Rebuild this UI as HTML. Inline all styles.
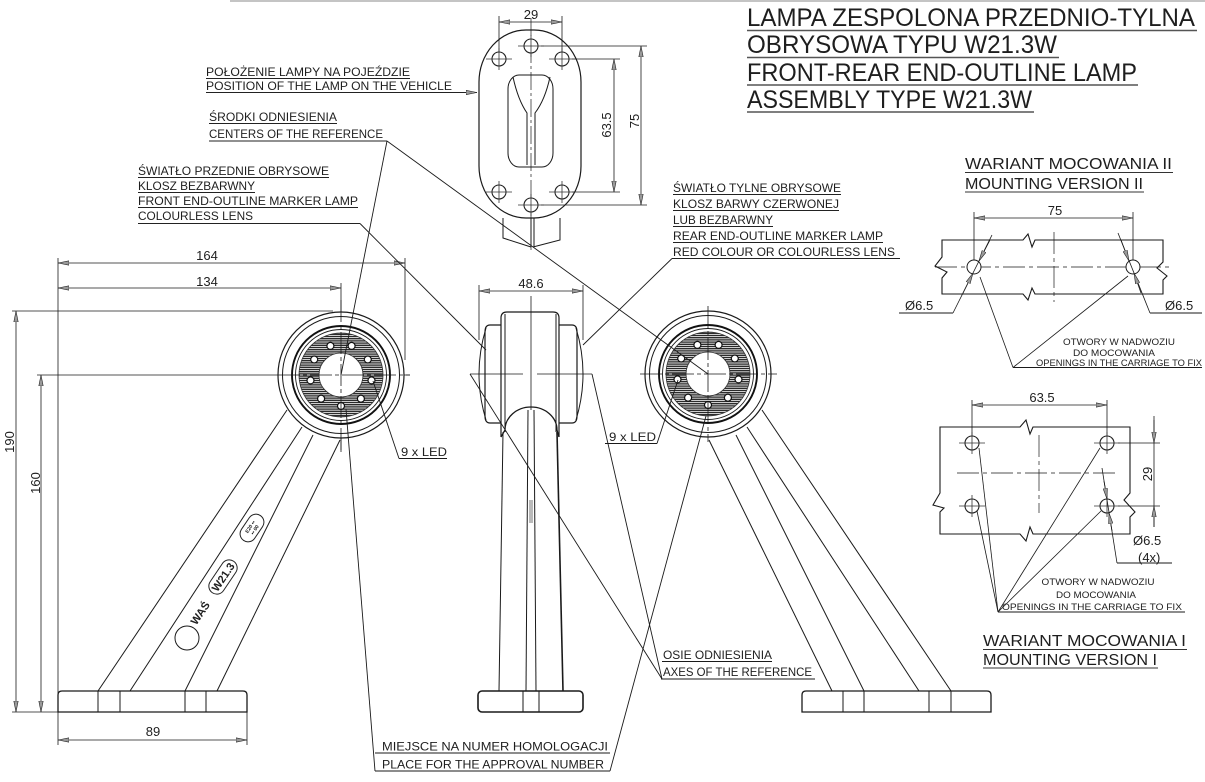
<!DOCTYPE html>
<html><head><meta charset="utf-8"><style>
html,body{margin:0;padding:0;background:#fff;}
svg{display:block;}
text{font-family:"Liberation Sans",sans-serif;fill:#1e1e1e;}
</style></head><body>
<svg width="1205" height="782" viewBox="0 0 1205 782" xmlns="http://www.w3.org/2000/svg">
<defs>
<marker id="a" viewBox="0 0 11 5" refX="11" refY="2.5" markerWidth="11" markerHeight="5" markerUnits="userSpaceOnUse" orient="auto-start-reverse"><path d="M0,0.3 L11,2.5 L0,4.7z" fill="#9a9a9a" stroke="#222" stroke-width="0.6"/></marker>
<pattern id="h" width="6" height="2.2" patternUnits="userSpaceOnUse"><rect width="6" height="2.2" fill="#fff"/><line x1="0" y1="1.1" x2="6" y2="1.1" stroke="#2a2a2a" stroke-width="1.4"/></pattern>
<g id="lamp">
 <circle r="63" fill="#fff" stroke="#1a1a1a" stroke-width="1.2"/>
 <circle r="58.5" fill="none" stroke="#1a1a1a" stroke-width="1"/>
 <circle r="49" fill="none" stroke="#111" stroke-width="1.9"/>
 <circle r="45.5" fill="none" stroke="#1a1a1a" stroke-width="0.9"/>
 <path d="M-42,0 a42,42 0 1,0 84,0 a42,42 0 1,0 -84,0 Z M-22,0 a22,22 0 1,0 44,0 a22,22 0 1,0 -44,0 Z" fill-rule="evenodd" fill="url(#h)" stroke="#333" stroke-width="0.8"/>
 <g fill="#fff" stroke="#111" stroke-width="1.2">
  <circle cx="0" cy="31" r="3.5"/><circle cx="19.9" cy="23.7" r="3.5"/><circle cx="-19.9" cy="23.7" r="3.5"/>
  <circle cx="30.5" cy="5.4" r="3.5"/><circle cx="-30.5" cy="5.4" r="3.5"/><circle cx="26.8" cy="-15.5" r="3.5"/>
  <circle cx="-26.8" cy="-15.5" r="3.5"/><circle cx="10.6" cy="-29.1" r="3.5"/><circle cx="-10.6" cy="-29.1" r="3.5"/>
 </g>
</g>
<g id="hole"><circle r="7" fill="#fff" stroke="#222" stroke-width="1.1"/><line x1="-13" y1="0" x2="13" y2="0" stroke="#333" stroke-width="0.8"/><line x1="0" y1="-11" x2="0" y2="11" stroke="#333" stroke-width="0.8"/></g>
</defs>

<!-- top border -->
<line x1="230" y1="1" x2="1205" y2="1" stroke="#c4c4c4" stroke-width="2"/>

<!-- TITLE -->
<g font-size="25">
<text x="747" y="26" textLength="448" lengthAdjust="spacingAndGlyphs">LAMPA ZESPOLONA PRZEDNIO-TYLNA</text>
<text x="747" y="53" textLength="310" lengthAdjust="spacingAndGlyphs">OBRYSOWA TYPU W21.3W</text>
<text x="747" y="81" textLength="390" lengthAdjust="spacingAndGlyphs">FRONT-REAR END-OUTLINE LAMP</text>
<text x="747" y="108" textLength="285" lengthAdjust="spacingAndGlyphs">ASSEMBLY TYPE W21.3W</text>
</g>
<g stroke="#555" stroke-width="1.4">
<line x1="747" y1="30.5" x2="1197" y2="30.5"/>
<line x1="747" y1="57.5" x2="1059" y2="57.5"/>
<line x1="747" y1="85" x2="1138" y2="85"/>
<line x1="747" y1="112" x2="1034" y2="112"/>
</g>

<!-- LEFT TOP LABELS -->
<g font-size="12">
<text x="206" y="76" textLength="204" lengthAdjust="spacingAndGlyphs">POŁOŻENIE LAMPY NA POJEŹDZIE</text>
<text x="206" y="90" textLength="246" lengthAdjust="spacingAndGlyphs">POSITION OF THE LAMP ON THE VEHICLE</text>
<text x="209" y="121" textLength="128" lengthAdjust="spacingAndGlyphs">ŚRODKI ODNIESIENIA</text>
<text x="209" y="138" textLength="174" lengthAdjust="spacingAndGlyphs">CENTERS OF THE REFERENCE</text>
<text x="138" y="175" textLength="191" lengthAdjust="spacingAndGlyphs">ŚWIATŁO PRZEDNIE OBRYSOWE</text>
<text x="138" y="190" textLength="117" lengthAdjust="spacingAndGlyphs">KLOSZ BEZBARWNY</text>
<text x="138" y="205" textLength="220" lengthAdjust="spacingAndGlyphs">FRONT END-OUTLINE MARKER LAMP</text>
<text x="138" y="220" textLength="115" lengthAdjust="spacingAndGlyphs">COLOURLESS LENS</text>
</g>
<g stroke="#222" stroke-width="1" fill="none">
<line x1="206" y1="78.5" x2="410" y2="78.5"/>
<line x1="206" y1="92.5" x2="477" y2="92.5" marker-end="url(#a)"/>
<line x1="209" y1="123.5" x2="337" y2="123.5"/>
<line x1="209" y1="141" x2="387" y2="141"/>
<line x1="138" y1="177.5" x2="329" y2="177.5"/>
<line x1="138" y1="192.5" x2="255" y2="192.5"/>
<line x1="138" y1="207.5" x2="358" y2="207.5"/>
<line x1="138" y1="223.5" x2="360" y2="223.5"/>
</g>

<!-- RIGHT LABELS (rear lamp) -->
<g font-size="12">
<text x="673" y="192" textLength="168" lengthAdjust="spacingAndGlyphs">ŚWIATŁO TYLNE OBRYSOWE</text>
<text x="673" y="208" textLength="166" lengthAdjust="spacingAndGlyphs">KLOSZ BARWY CZERWONEJ</text>
<text x="673" y="224" textLength="100" lengthAdjust="spacingAndGlyphs">LUB BEZBARWNY</text>
<text x="673" y="240" textLength="210" lengthAdjust="spacingAndGlyphs">REAR END-OUTLINE MARKER LAMP</text>
<text x="673" y="256" textLength="222" lengthAdjust="spacingAndGlyphs">RED COLOUR OR COLOURLESS LENS</text>
</g>
<g stroke="#222" stroke-width="1" fill="none">
<line x1="673" y1="194.5" x2="841" y2="194.5"/>
<line x1="673" y1="210.5" x2="839" y2="210.5"/>
<line x1="673" y1="226.5" x2="773" y2="226.5"/>
<line x1="673" y1="242.5" x2="883" y2="242.5"/>
<line x1="672" y1="258.5" x2="900" y2="258.5"/>
</g>

<!-- TOP VIEW -->
<g stroke="#1a1a1a" stroke-width="1" fill="none">
<rect x="479" y="30" width="102" height="188" rx="47" ry="52" stroke-width="1.2"/>
<rect x="508" y="75" width="45" height="92" rx="11" ry="14"/>
<path d="M513,77 Q518,100 527,113 L527,165 M550,77 Q545,100 535,113 L535,165"/>
<path d="M503,218 L503,238 L531,247 M560,218 L560,240 L533,247 M531,218 V247 M534,218 V247"/>
<line x1="531" y1="18" x2="531" y2="250" stroke-width="0.7" stroke-dasharray="18,3,3,3"/>
<!-- dims -->
<line x1="499" y1="16" x2="499" y2="52" stroke-width="0.8"/>
<line x1="562" y1="16" x2="562" y2="52" stroke-width="0.8"/>
<line x1="499" y1="22" x2="562" y2="22" stroke-width="0.8" marker-start="url(#a)" marker-end="url(#a)"/>
<line x1="572" y1="59" x2="620" y2="59" stroke-width="0.8"/>
<line x1="572" y1="192" x2="620" y2="192" stroke-width="0.8"/>
<line x1="614" y1="59" x2="614" y2="192" stroke-width="0.8" marker-start="url(#a)" marker-end="url(#a)"/>
<line x1="541" y1="46" x2="647" y2="46" stroke-width="0.8"/>
<line x1="541" y1="205" x2="647" y2="205" stroke-width="0.8"/>
<line x1="641" y1="46" x2="641" y2="205" stroke-width="0.8" marker-start="url(#a)" marker-end="url(#a)"/>
</g>
<use href="#hole" x="531" y="46"/><use href="#hole" x="499" y="59"/><use href="#hole" x="562" y="59"/>
<use href="#hole" x="499" y="192"/><use href="#hole" x="562" y="192"/><use href="#hole" x="531" y="205"/>
<g font-size="13">
<text x="531" y="19" text-anchor="middle">29</text>
<text transform="translate(611,125) rotate(-90)" text-anchor="middle">63.5</text>
<text transform="translate(639,121) rotate(-90)" text-anchor="middle">75</text>
</g>

<!-- LEFT LAMP DIMENSIONS -->
<g stroke="#1a1a1a" stroke-width="0.8" fill="none">
<line x1="58" y1="258" x2="58" y2="745"/>
<line x1="247" y1="712" x2="247" y2="745"/>
<line x1="405" y1="258" x2="405" y2="360"/>
<line x1="58" y1="263" x2="405" y2="263" marker-start="url(#a)" marker-end="url(#a)"/>
<line x1="58" y1="288" x2="341" y2="288" marker-start="url(#a)" marker-end="url(#a)"/>
<line x1="12" y1="311" x2="333" y2="311"/>
<line x1="12" y1="712" x2="58" y2="712"/>
<line x1="37" y1="375" x2="410" y2="375"/>
<line x1="16" y1="311" x2="16" y2="712" marker-start="url(#a)" marker-end="url(#a)"/>
<line x1="41" y1="375" x2="41" y2="712" marker-start="url(#a)" marker-end="url(#a)"/>
<line x1="58" y1="740" x2="247" y2="740" marker-start="url(#a)" marker-end="url(#a)"/>
<line x1="341" y1="283" x2="341" y2="452"/>
</g>
<g font-size="13">
<text x="207" y="260" text-anchor="middle">164</text>
<text x="207" y="286" text-anchor="middle">134</text>
<text x="153" y="736" text-anchor="middle">89</text>
<text transform="translate(14,442) rotate(-90)" text-anchor="middle">190</text>
<text transform="translate(40,483) rotate(-90)" text-anchor="middle">160</text>
</g>

<!-- LEFT LAMP ARM & BASE -->
<g stroke="#1a1a1a" stroke-width="1" fill="none">
<line x1="98" y1="691" x2="287" y2="410"/>
<line x1="130" y1="691" x2="302" y2="427"/>
<line x1="185" y1="691" x2="313" y2="435"/>
<line x1="217" y1="691" x2="340" y2="440"/>
<path d="M58,712 L58,695 Q58,691 62,691 L243,691 Q247,691 247,695 L247,712 Z" stroke-width="1.3"/>
<line x1="98" y1="691" x2="98" y2="712"/>
<line x1="120" y1="691" x2="120" y2="712"/>
<line x1="185" y1="691" x2="185" y2="712"/>
<line x1="206" y1="691" x2="206" y2="712"/>
<circle cx="187" cy="638" r="12"/>
</g>
<g transform="translate(200,613) rotate(-56)"><text x="0" y="4" font-size="11" font-weight="bold" text-anchor="middle">WAŚ</text></g>
<g transform="translate(223,577) rotate(-56)"><rect x="-19" y="-8" width="38" height="16" rx="8" fill="#fff" stroke="#222" stroke-width="1"/><text x="0" y="4" font-size="11" font-weight="bold" text-anchor="middle">W21.3</text></g>
<g transform="translate(252,528) rotate(-56)"><rect x="-15" y="-8" width="30" height="16" rx="8" fill="#fff" stroke="#222" stroke-width="1"/><text x="0" y="-0.5" font-size="5" font-weight="bold" text-anchor="middle">E20 ▪▪</text><text x="0" y="5" font-size="5" font-weight="bold" text-anchor="middle">▪▪ 00</text></g>

<use href="#lamp" x="341" y="375"/>
<g stroke="#1a1a1a" stroke-width="0.8">
<line x1="278" y1="375" x2="410" y2="375" stroke-dasharray="22,3,4,3"/>
<line x1="341" y1="300" x2="341" y2="452" stroke-dasharray="22,3,4,3"/>
</g>

<!-- CENTER LAMP -->
<g stroke="#1a1a1a" stroke-width="1" fill="none">
<line x1="479" y1="285" x2="479" y2="340" stroke-width="0.8"/>
<line x1="583" y1="285" x2="583" y2="340" stroke-width="0.8"/>
<line x1="479" y1="291" x2="583" y2="291" stroke-width="0.8" marker-start="url(#a)" marker-end="url(#a)"/>
<path d="M501,325 L490,325 Q485,325 485,332 L485,416 Q485,423 490,423 L501,423" stroke-width="1.2"/>
<path d="M486,328 Q472,374 486,420"/>
<path d="M559,325 L572,325 Q577,325 577,332 L577,416 Q577,423 572,423 L559,423" stroke-width="1.2"/>
<path d="M576,328 Q590,374 576,420"/>
<path d="M501,437 L501,318 Q501,312 507,312 L553,312 Q559,312 559,318 L559,437" stroke-width="1.2"/>
<line x1="505" y1="314" x2="505" y2="432"/>
<line x1="556" y1="314" x2="556" y2="432"/>
<path d="M501,437 L505,430 A26,23 0 0 1 557,430 L559,437" stroke-width="1.3"/>
<line x1="503" y1="432" x2="499" y2="691"/>
<line x1="557" y1="432" x2="563" y2="691" stroke-width="1.6"/>
<line x1="528" y1="410" x2="526" y2="691"/>
<line x1="534" y1="410" x2="536" y2="691"/>
<line x1="530" y1="500" x2="530" y2="523" stroke-width="0.6"/>
<line x1="532" y1="500" x2="532" y2="523" stroke-width="0.6"/>
<line x1="531" y1="296" x2="531" y2="410" stroke-width="0.8"/>
<line x1="470" y1="374" x2="523" y2="374" stroke-width="0.8"/>
<line x1="537" y1="374" x2="592" y2="374" stroke-width="0.8"/>
<rect x="478" y="691" width="105" height="21" rx="4" stroke-width="1.6"/>
<line x1="523" y1="691" x2="523" y2="712"/>
<line x1="539" y1="691" x2="539" y2="712"/>
</g>
<text x="531" y="288" font-size="13" text-anchor="middle">48.6</text>

<!-- RIGHT LAMP ARM & BASE -->
<g stroke="#1a1a1a" stroke-width="1" fill="none">
<line x1="951" y1="691" x2="762" y2="410"/>
<line x1="919" y1="691" x2="747" y2="427"/>
<line x1="864" y1="691" x2="736" y2="435"/>
<line x1="832" y1="691" x2="709" y2="440"/>
<path d="M802,712 L802,695 Q802,691 806,691 L987,691 Q991,691 991,695 L991,712 Z" stroke-width="1.3"/>
<line x1="843" y1="691" x2="843" y2="712"/>
<line x1="864" y1="691" x2="864" y2="712"/>
<line x1="929" y1="691" x2="929" y2="712"/>
<line x1="951" y1="691" x2="951" y2="712"/>
</g>
<use href="#lamp" x="708" y="374"/>
<g stroke="#1a1a1a" stroke-width="0.8">
<line x1="640" y1="374" x2="777" y2="374" stroke-dasharray="22,3,4,3"/>
<line x1="708" y1="306" x2="708" y2="442" stroke-dasharray="22,3,4,3"/>
</g>

<!-- LEADER LINES -->
<g stroke="#1a1a1a" stroke-width="0.9" fill="none">
<line x1="387" y1="141" x2="341" y2="375"/>
<line x1="387" y1="141" x2="708" y2="374"/>
<line x1="360" y1="223.5" x2="486" y2="350"/>
<line x1="672" y1="258.5" x2="583" y2="345"/>
<line x1="399" y1="458.5" x2="373" y2="381"/>
<line x1="657" y1="443.5" x2="678" y2="380"/>
<line x1="662" y1="679" x2="470" y2="374"/>
<line x1="662" y1="679" x2="592" y2="374"/>
<line x1="375" y1="771" x2="346" y2="409"/>
<line x1="610" y1="771" x2="706" y2="416"/>
<line x1="399" y1="458.5" x2="447" y2="458.5"/>
<line x1="605" y1="443.5" x2="657" y2="443.5"/>
<line x1="662" y1="661.5" x2="772" y2="661.5"/>
<line x1="661" y1="679" x2="815" y2="679"/>
<line x1="375" y1="753" x2="610" y2="753"/>
<line x1="375" y1="771" x2="610" y2="771"/>
</g>
<g font-size="12">
<text x="401" y="456" textLength="46" lengthAdjust="spacingAndGlyphs">9 x LED</text>
<text x="609" y="441" textLength="47" lengthAdjust="spacingAndGlyphs">9 x LED</text>
<text x="663" y="659" textLength="109" lengthAdjust="spacingAndGlyphs">OSIE ODNIESIENIA</text>
<text x="663" y="676" textLength="149" lengthAdjust="spacingAndGlyphs">AXES OF THE REFERENCE</text>
<text x="382" y="750.5" textLength="226" lengthAdjust="spacingAndGlyphs">MIEJSCE NA NUMER HOMOLOGACJI</text>
<text x="382" y="768.5" textLength="222" lengthAdjust="spacingAndGlyphs">PLACE FOR THE APPROVAL NUMBER</text>
</g>

<!-- MOUNTING VERSION II -->
<g font-size="16">
<text x="965" y="169" textLength="207" lengthAdjust="spacingAndGlyphs">WARIANT MOCOWANIA II</text>
<text x="965" y="189" textLength="178" lengthAdjust="spacingAndGlyphs">MOUNTING VERSION II</text>
</g>
<g stroke="#333" stroke-width="1.1"><line x1="965" y1="172.5" x2="1173" y2="172.5"/><line x1="965" y1="192" x2="1144" y2="192"/></g>
<g stroke="#1a1a1a" stroke-width="1" fill="none">
<path d="M942,240 H1023 L1028,234 L1032,247 L1035,240 H1163 V262 L1157,268 L1167,276 L1163,280 V294 H1035 L1032,288 L1028,300 L1023,294 H942 V278 L947,272 L935,266 L942,257 Z" stroke-width="1.1"/>
<line x1="935" y1="267" x2="1173" y2="267" stroke-width="0.7" stroke-dasharray="22,4,4,4"/>
<line x1="1054" y1="232" x2="1054" y2="302" stroke-width="0.7" stroke-dasharray="22,4,4,4"/>
<line x1="974" y1="212" x2="974" y2="262" stroke-width="0.8"/>
<line x1="1133" y1="212" x2="1133" y2="262" stroke-width="0.8"/>
<line x1="974" y1="218" x2="1133" y2="218" stroke-width="0.8" marker-start="url(#a)" marker-end="url(#a)"/>
<circle cx="974" cy="267" r="7" fill="#fff"/>
<circle cx="1133" cy="267" r="7" fill="#fff"/>
<line x1="992" y1="235" x2="953" y2="313" stroke-width="0.8"/>
<line x1="953" y1="313" x2="899" y2="313"/>
<line x1="990" y1="240" x2="979" y2="261" stroke-width="0.8" marker-end="url(#a)"/>
<line x1="962" y1="295" x2="973" y2="273" stroke-width="0.8" marker-end="url(#a)"/>
<line x1="1118" y1="233" x2="1150" y2="313" stroke-width="0.8"/>
<line x1="1150" y1="313" x2="1202" y2="313"/>
<line x1="1121" y1="240" x2="1129" y2="261" stroke-width="0.8" marker-end="url(#a)"/>
<line x1="1141" y1="293" x2="1134" y2="273" stroke-width="0.8" marker-end="url(#a)"/>
<line x1="1013" y1="367.5" x2="980" y2="277" stroke-width="0.8"/>
<line x1="1013" y1="367.5" x2="1128" y2="276" stroke-width="0.8"/>
<line x1="1013" y1="367.5" x2="1202" y2="367.5"/>
</g>
<g font-size="13">
<text x="1055" y="215" text-anchor="middle">75</text>
<text x="905" y="310">Ø6.5</text>
<text x="1165" y="310">Ø6.5</text>
</g>
<g font-size="9" text-anchor="middle">
<text x="1119" y="345" textLength="112" lengthAdjust="spacingAndGlyphs">OTWORY W NADWOZIU</text>
<text x="1114" y="356" textLength="82" lengthAdjust="spacingAndGlyphs">DO MOCOWANIA</text>
<text x="1119" y="366" textLength="166" lengthAdjust="spacingAndGlyphs">OPENINGS IN THE CARRIAGE TO FIX</text>
</g>

<!-- MOUNTING VERSION I -->
<g stroke="#1a1a1a" stroke-width="1" fill="none">
<path d="M940,427 H1020 L1026,420 L1030,434 L1033,427 H1130 V493 L1124,500 L1135,512 L1130,517 V534 H1033 L1030,527 L1026,541 L1020,534 H940 V512 L944,508 L933,505 L940,493 Z" stroke-width="1.1"/>
<line x1="957" y1="473" x2="1117" y2="473" stroke-width="0.7" stroke-dasharray="22,4,4,4"/>
<line x1="1039" y1="435" x2="1039" y2="513" stroke-width="0.7" stroke-dasharray="22,4,4,4"/>
<line x1="972" y1="400" x2="972" y2="436" stroke-width="0.8"/>
<line x1="1107" y1="400" x2="1107" y2="436" stroke-width="0.8"/>
<line x1="972" y1="405" x2="1107" y2="405" stroke-width="0.8" marker-start="url(#a)" marker-end="url(#a)"/>
<line x1="1118" y1="443" x2="1160" y2="443" stroke-width="0.8"/>
<line x1="1118" y1="506" x2="1160" y2="506" stroke-width="0.8"/>
<line x1="1154" y1="416" x2="1154" y2="527" stroke-width="0.8"/>
<line x1="1154" y1="420" x2="1154" y2="443" stroke-width="0.8" marker-end="url(#a)"/>
<line x1="1154" y1="527" x2="1154" y2="506" stroke-width="0.8" marker-end="url(#a)"/>
</g>
<use href="#hole" x="972" y="443"/><use href="#hole" x="1107" y="443"/>
<use href="#hole" x="972" y="506"/><use href="#hole" x="1107" y="506"/>
<g stroke="#1a1a1a" stroke-width="0.8" fill="none">
<line x1="1102" y1="468" x2="1117" y2="563"/>
<line x1="1117" y1="563" x2="1172" y2="563" stroke-width="1"/>
<line x1="1104" y1="481" x2="1107" y2="499" marker-end="url(#a)"/>
<line x1="1112" y1="531" x2="1109" y2="513" marker-end="url(#a)"/>
<line x1="998" y1="612" x2="979" y2="448"/>
<line x1="998" y1="612" x2="977" y2="511"/>
<line x1="998" y1="612" x2="1100" y2="448"/>
<line x1="998" y1="612" x2="1101" y2="511"/>
<line x1="998" y1="612" x2="1185" y2="612" stroke-width="1"/>
</g>
<g font-size="13">
<text x="1042" y="402" text-anchor="middle">63.5</text>
<text transform="translate(1152,474) rotate(-90)" text-anchor="middle">29</text>
<text x="1133" y="545">Ø6.5</text>
<text x="1138" y="562">(4x)</text>
</g>
<g font-size="9" text-anchor="middle">
<text x="1098" y="585" textLength="113" lengthAdjust="spacingAndGlyphs">OTWORY W NADWOZIU</text>
<text x="1096" y="598" textLength="80" lengthAdjust="spacingAndGlyphs">DO MOCOWANIA</text>
<text x="1092" y="610" textLength="180" lengthAdjust="spacingAndGlyphs">OPENINGS IN THE CARRIAGE TO FIX</text>
</g>
<g font-size="16">
<text x="983" y="646" textLength="203" lengthAdjust="spacingAndGlyphs">WARIANT MOCOWANIA I</text>
<text x="983" y="665" textLength="174" lengthAdjust="spacingAndGlyphs">MOUNTING VERSION I</text>
</g>
<g stroke="#333" stroke-width="1.1"><line x1="983" y1="649.5" x2="1187" y2="649.5"/><line x1="983" y1="668" x2="1158" y2="668"/></g>
</svg>
</body></html>
